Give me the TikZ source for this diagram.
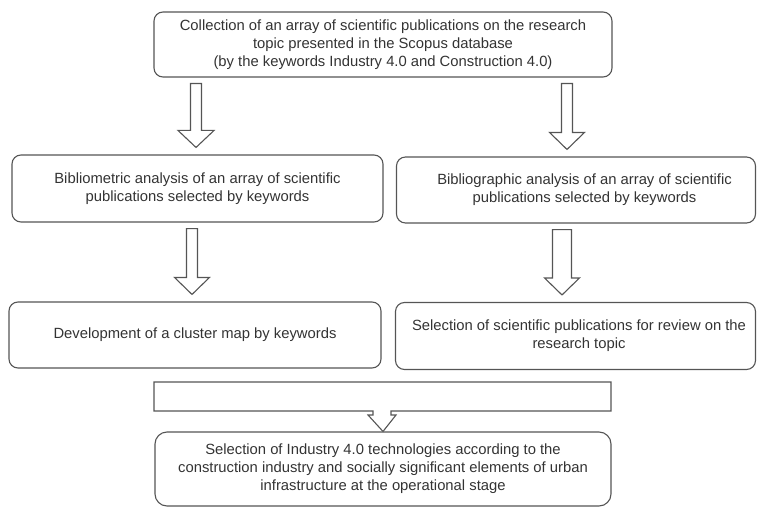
\documentclass[tikz,border=0pt]{standalone}
\usepackage{fontspec}
\setmainfont{Liberation Sans}
\usetikzlibrary{calc}
\definecolor{edge}{HTML}{555555}
\definecolor{ink}{HTML}{333333}

% block arrow pointing down, between two named nodes
% #1 centre x, #2 upper node, #3 lower node, #4 shaft half width, #5 head half width
\newcommand{\blockarrow}[5]{%
  \draw[arrowline] let \p1=(#2.south), \p2=(#3.north) in
    (#1pt-#4pt, \y1-6pt) -- (#1pt+#4pt, \y1-6pt) -- (#1pt+#4pt, \y2+24pt)
    -- (#1pt+#5pt, \y2+24pt) -- (#1pt, \y2+7pt) -- (#1pt-#5pt, \y2+24pt)
    -- (#1pt-#4pt, \y2+24pt) -- cycle;}

\begin{document}
\begin{tikzpicture}[x=1pt, y=-1pt,
  stepbox/.style={draw=edge, line width=1.1pt, rounded corners=9pt, align=center,
    text=ink, inner sep=0pt, font=\fontsize{14.8}{18}\selectfont},
  arrowline/.style={draw=edge, line width=1.1pt, line join=miter, fill=white}]
\useasboundingbox (0,0) rectangle (757,508);

\node[stepbox, minimum width=458pt, minimum height=65pt] (collect) at (383,44.5)
  {Collection of an array of scientific publications on the research\\
   topic presented in the Scopus database\\
   (by the keywords Industry 4.0 and Construction 4.0)};

\node[stepbox, minimum width=371pt, minimum height=67pt] (metric) at (197.5,188.5)
  {Bibliometric analysis of an array of scientific\\
   publications selected by keywords};

\node[stepbox, minimum width=359pt, minimum height=66pt] (graphic) at (576,190)
  {\hspace*{17pt}Bibliographic analysis of an array of scientific\\
   \hspace*{17pt}publications selected by keywords};

\node[stepbox, minimum width=372pt, minimum height=66pt] (cluster) at (195,335)
  {Development of a cluster map by keywords};

\node[stepbox, minimum width=360pt, minimum height=67pt] (review) at (575.5,336)
  {\hspace*{7pt}Selection of scientific publications for review on the\\
   \hspace*{7pt}research topic};

\node[stepbox, rounded corners=12pt, minimum width=456pt, minimum height=74pt] (final) at (383,469)
  {Selection of Industry 4.0 technologies according to the\\
   construction industry and socially significant elements of urban\\
   infrastructure at the operational stage};

% arrows between the stages
\blockarrow{196}{collect}{metric}{5.5}{18}
\blockarrow{567}{collect}{graphic}{5.5}{17.5}
\blockarrow{192}{metric}{cluster}{5.5}{17.5}
\blockarrow{562}{graphic}{review}{9.5}{17.5}

% merging arrow into the final stage
\draw[arrowline] (154,382) -- (611,382) -- (611,411) -- (391,411) -- (391,415)
  -- (396,415) -- (final.north) -- (368,415) -- (373,415) -- (373,411)
  -- (154,411) -- cycle;
\end{tikzpicture}
\end{document}
